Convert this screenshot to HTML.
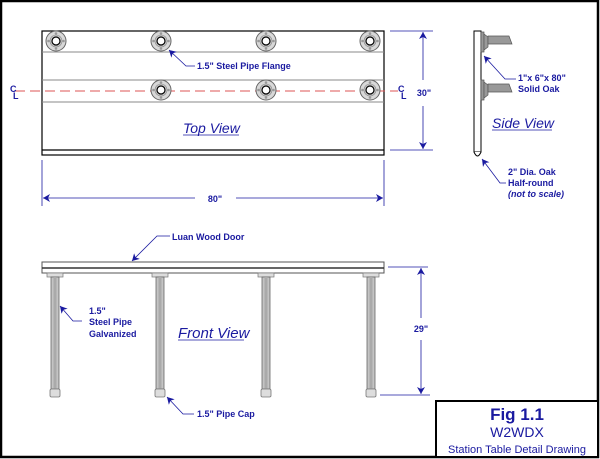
<!DOCTYPE html>
<html><head><style>
html,body{margin:0;padding:0;background:#fff}
svg{display:block}
text{font-family:"Liberation Sans",Arial,sans-serif;fill:#1a1aa0}
.b{font-weight:bold;font-size:9px}
</style></head><body>
<svg width="600" height="459" viewBox="0 0 600 459" xmlns="http://www.w3.org/2000/svg">
<defs>
<g id="fl">
<circle r="10" fill="#d8d8d8" stroke="#666" stroke-width="1"/>
<circle r="6" fill="#c8c8c8" stroke="#888" stroke-width="0.6"/>
<circle cx="0" cy="-7.5" r="1.3" fill="#999"/><circle cx="0" cy="7.5" r="1.3" fill="#999"/>
<circle cx="-7.5" cy="0" r="1.3" fill="#999"/><circle cx="7.5" cy="0" r="1.3" fill="#999"/>
<circle r="4" fill="#fff" stroke="#000" stroke-width="1.2"/>
</g>
<g id="leg">
<rect x="-8" y="273" width="16" height="4" fill="#ddd" stroke="#777" stroke-width="0.7"/>
<rect x="-4" y="277" width="8" height="112" fill="#c4c4c4" stroke="#666" stroke-width="0.8"/>
<rect x="-1.5" y="277" width="3" height="112" fill="#aaa"/>
<rect x="-5" y="389" width="10" height="8" rx="1.5" fill="#ddd" stroke="#777" stroke-width="0.8"/>
</g>
<marker id="ar" markerWidth="8" markerHeight="8" refX="7" refY="4" orient="auto" markerUnits="userSpaceOnUse"><path d="M0,0 L7,4 L0,8 L2,4 Z" fill="#1a1aa0"/></marker>
</defs>
<rect x="1" y="1" width="597" height="456" fill="#fff" stroke="#000" stroke-width="2.5"/>

<!-- Top view -->
<rect x="42" y="31" width="342" height="124" fill="#fff" stroke="#000" stroke-width="1.2"/>
<line x1="42" y1="52" x2="384" y2="52" stroke="#888" stroke-width="1"/>
<line x1="42" y1="80" x2="384" y2="80" stroke="#888" stroke-width="1"/>
<line x1="42" y1="102" x2="384" y2="102" stroke="#888" stroke-width="1"/>
<line x1="42" y1="150" x2="384" y2="150" stroke="#000" stroke-width="1.2"/>
<line x1="15" y1="91" x2="398" y2="91" stroke="#d55" stroke-width="1" stroke-dasharray="10,5"/>
<use href="#fl" x="56" y="41"/><use href="#fl" x="161" y="41"/><use href="#fl" x="266" y="41"/><use href="#fl" x="370" y="41"/>
<use href="#fl" x="161" y="90"/><use href="#fl" x="266" y="90"/><use href="#fl" x="370" y="90"/>
<text x="10" y="92" style="font-size:9px;font-weight:bold">C</text><text x="13" y="99" style="font-size:9px;font-weight:bold">L</text>
<text x="398" y="92" style="font-size:9px;font-weight:bold">C</text><text x="401" y="99" style="font-size:9px;font-weight:bold">L</text>
<polyline points="195,66 186,66 169,50" fill="none" stroke="#1a1aa0" stroke-width="0.8" marker-end="url(#ar)"/>
<text x="197" y="69" class="b">1.5" Steel Pipe Flange</text>
<text x="183" y="133" style="font-size:14px;font-style:italic">Top View</text>
<line x1="183" y1="135" x2="239" y2="135" stroke="#1a1aa0" stroke-width="0.8"/>
<!-- 80 dim -->
<line x1="42" y1="160" x2="42" y2="206" stroke="#1a1aa0" stroke-width="0.8"/>
<line x1="384" y1="160" x2="384" y2="206" stroke="#1a1aa0" stroke-width="0.8"/>
<line x1="195" y1="198" x2="43" y2="198" stroke="#1a1aa0" stroke-width="0.8" marker-end="url(#ar)"/>
<line x1="236" y1="198" x2="383" y2="198" stroke="#1a1aa0" stroke-width="0.8" marker-end="url(#ar)"/>
<text x="215" y="202" class="b" text-anchor="middle">80"</text>
<!-- 30 dim -->
<line x1="390" y1="31" x2="433" y2="31" stroke="#1a1aa0" stroke-width="0.8"/>
<line x1="390" y1="150" x2="433" y2="150" stroke="#1a1aa0" stroke-width="0.8"/>
<line x1="423" y1="80" x2="423" y2="32" stroke="#1a1aa0" stroke-width="0.8" marker-end="url(#ar)"/>
<line x1="423" y1="106" x2="423" y2="149" stroke="#1a1aa0" stroke-width="0.8" marker-end="url(#ar)"/>
<text x="424" y="96" class="b" text-anchor="middle">30"</text>

<!-- Side view -->
<rect x="474" y="31" width="7" height="121" fill="#fff" stroke="#000" stroke-width="1"/>
<path d="M474,152 Q477.5,160 481,152" fill="#fff" stroke="#000" stroke-width="1"/>
<g fill="#999" stroke="#555" stroke-width="0.7">
<rect x="481" y="32" width="3" height="20"/><path d="M484,34 L488,37 L488,47 L484,50 Z"/><path d="M488,36 L509,36 L512,44 L488,44 Z"/>
<rect x="481" y="80" width="3" height="20"/><path d="M484,82 L488,85 L488,95 L484,98 Z"/><path d="M488,84 L509,84 L512,92 L488,92 Z"/>
</g>
<polyline points="516,79 505,79 484,56" fill="none" stroke="#1a1aa0" stroke-width="0.8" marker-end="url(#ar)"/>
<text x="518" y="81" class="b">1"x 6"x 80"</text>
<text x="518" y="92" class="b">Solid Oak</text>
<text x="492" y="128" style="font-size:14px;font-style:italic">Side View</text>
<line x1="492" y1="130" x2="552" y2="130" stroke="#1a1aa0" stroke-width="0.8"/>
<polyline points="506,183 500,183 482,159" fill="none" stroke="#1a1aa0" stroke-width="0.8" marker-end="url(#ar)"/>
<text x="508" y="175" class="b">2" Dia. Oak</text>
<text x="508" y="186" class="b">Half-round</text>
<text x="508" y="197" class="b" style="font-style:italic">(not to scale)</text>

<!-- Front view -->
<rect x="42" y="262" width="342" height="11" fill="#fff" stroke="#555" stroke-width="1"/>
<line x1="42" y1="268" x2="384" y2="268" stroke="#333" stroke-width="1.5"/>
<use href="#leg" x="55"/><use href="#leg" x="160"/><use href="#leg" x="266"/><use href="#leg" x="371"/>
<polyline points="170,236 157,236 132,261" fill="none" stroke="#1a1aa0" stroke-width="0.8" marker-end="url(#ar)"/>
<text x="172" y="240" class="b">Luan Wood Door</text>
<polyline points="82,321 73,321 60,306" fill="none" stroke="#1a1aa0" stroke-width="0.8" marker-end="url(#ar)"/>
<text x="89" y="314" class="b">1.5"</text>
<text x="89" y="325" class="b">Steel Pipe</text>
<text x="89" y="337" class="b">Galvanized</text>
<text x="178" y="338" style="font-size:15px;font-style:italic">Front View</text>
<line x1="178" y1="340" x2="244" y2="340" stroke="#1a1aa0" stroke-width="0.8"/>
<polyline points="194,414 183,414 167,397" fill="none" stroke="#1a1aa0" stroke-width="0.8" marker-end="url(#ar)"/>
<text x="197" y="417" class="b">1.5" Pipe Cap</text>
<!-- 29 dim -->
<line x1="388" y1="267" x2="428" y2="267" stroke="#1a1aa0" stroke-width="0.8"/>
<line x1="380" y1="395" x2="430" y2="395" stroke="#1a1aa0" stroke-width="0.8"/>
<line x1="421" y1="318" x2="421" y2="268" stroke="#1a1aa0" stroke-width="0.8" marker-end="url(#ar)"/>
<line x1="421" y1="340" x2="421" y2="394" stroke="#1a1aa0" stroke-width="0.8" marker-end="url(#ar)"/>
<text x="421" y="332" class="b" text-anchor="middle">29"</text>

<!-- Title box -->
<rect x="436" y="401" width="162" height="56" fill="#fff" stroke="#000" stroke-width="2"/>
<text x="517" y="420" text-anchor="middle" style="font-size:17px;font-weight:bold">Fig 1.1</text>
<text x="517" y="437" text-anchor="middle" style="font-size:14px">W2WDX</text>
<text x="517" y="453" text-anchor="middle" style="font-size:11px">Station Table Detail Drawing</text>
</svg>
</body></html>
